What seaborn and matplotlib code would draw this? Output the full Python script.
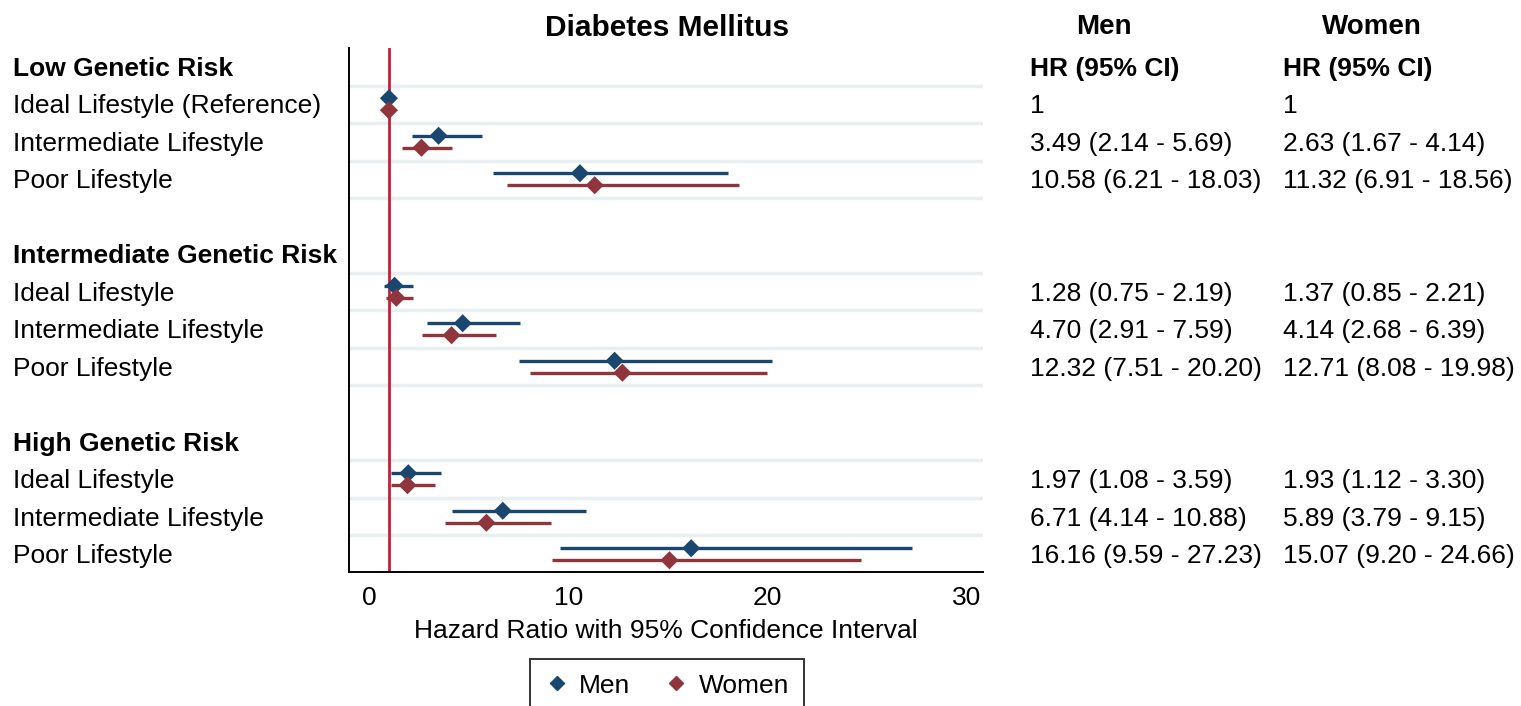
import numpy as np
import pandas as pd
import matplotlib
matplotlib.use("Agg")
import matplotlib.pyplot as plt
import matplotlib.transforms as mtransforms
from matplotlib.lines import Line2D
import seaborn as sns

# data (hazard ratios with 95% CI)
groups = ["Low Genetic Risk", "Intermediate Genetic Risk", "High Genetic Risk"]
row_labels = [
    "Ideal Lifestyle (Reference)", "Intermediate Lifestyle", "Poor Lifestyle",
    "Ideal Lifestyle", "Intermediate Lifestyle", "Poor Lifestyle",
    "Ideal Lifestyle", "Intermediate Lifestyle", "Poor Lifestyle",
]
men_hr = [1.0, 3.49, 10.58, 1.28, 4.70, 12.32, 1.97, 6.71, 16.16]
men_lo = [1.0, 2.14, 6.21, 0.75, 2.91, 7.51, 1.08, 4.14, 9.59]
men_hi = [1.0, 5.69, 18.03, 2.19, 7.59, 20.20, 3.59, 10.88, 27.23]
women_hr = [1.0, 2.63, 11.32, 1.37, 4.14, 12.71, 1.93, 5.89, 15.07]
women_lo = [1.0, 1.67, 6.91, 0.85, 2.68, 8.08, 1.12, 3.79, 9.20]
women_hi = [1.0, 4.14, 18.56, 2.21, 6.39, 19.98, 3.30, 9.15, 24.66]
xticks = [0, 10, 20, 30]

MEN_C = "#1a476f"
WOMEN_C = "#90353b"
REF_C = "#c41e3a"
GRID_C = "#e9eff1"
FS = 19

sns.set_style("white")
plt.rcParams["font.family"] = ["Liberation Sans", "DejaVu Sans"]
plt.rcParams["text.color"] = "black"
plt.rcParams["axes.labelcolor"] = "black"
plt.rcParams["xtick.color"] = "black"

# row positions: header at 5*g, rows at 5*g+1..3
header_pos = [5 * g for g in range(3)]
row_pos = [5 * g + k for g in range(3) for k in (1, 2, 3)]
off = 0.16

df = pd.DataFrame({
    "pos": np.concatenate([np.array(row_pos) - off, np.array(row_pos) + off]),
    "hr": men_hr + women_hr,
    "lo": men_lo + women_lo,
    "hi": men_hi + women_hi,
    "sex": ["Men"] * 9 + ["Women"] * 9,
})

fig = plt.figure(figsize=(15.21, 7.06), dpi=100)
ax = fig.add_axes([0.2295, 0.19, 0.4168, 0.742])

# gridlines between rows
for g in range(3):
    for k in range(4):
        y = 5 * g + k + 0.5
        if y < 13.4:
            ax.axhline(y, color=GRID_C, lw=2.5, zorder=0)

ax.axvline(1, color=REF_C, lw=2.0, zorder=1)

for sex, col in (("Men", MEN_C), ("Women", WOMEN_C)):
    sub = df[df["sex"] == sex]
    ax.hlines(sub["pos"], sub["lo"], sub["hi"], color=col, lw=2.4, zorder=2)

sns.scatterplot(data=df, x="hr", y="pos", hue="sex", palette=[MEN_C, WOMEN_C],
                marker="D", s=85, edgecolor="none", zorder=3, ax=ax, legend=False)

ax.set_xlim(-1.0, 30.8)
ax.set_ylim(13.47, -0.5)
ax.set_xticks(xticks)
ax.set_xticklabels([str(t) for t in xticks], fontsize=FS)
ax.set_yticks([])
ax.set_ylabel("")
ax.set_xlabel("Hazard Ratio with 95% Confidence Interval", fontsize=FS, labelpad=7)
ax.tick_params(axis="x", direction="out", length=7, width=1.3, color="black",
               pad=3, labelcolor="black")
for side in ("top", "right"):
    ax.spines[side].set_visible(False)
for side in ("left", "bottom"):
    ax.spines[side].set_color("black")
    ax.spines[side].set_linewidth(1.4)

fig.text(667 / 1521, 1 - 28 / 706, "Diabetes Mellitus", fontsize=21.5,
         fontweight="bold", ha="center", va="center")

# text columns
tr = mtransforms.blended_transform_factory(fig.transFigure, ax.transData)
bl = 0.24
x_left = 13 / 1521
x_men = 1030 / 1521
x_women = 1283 / 1521

for g, hp in enumerate(header_pos):
    ax.text(x_left, hp + bl, groups[g], transform=tr, fontsize=FS,
            fontweight="bold", va="baseline", ha="left")
for i, rp in enumerate(row_pos):
    ax.text(x_left, rp + bl, row_labels[i], transform=tr, fontsize=FS,
            va="baseline", ha="left")


def fmt(hr, lo, hi):
    if hr == 1.0 and lo == 1.0 and hi == 1.0:
        return "1"
    return f"{hr:.2f} ({lo:.2f} - {hi:.2f})"


ax.text(x_men, header_pos[0] + bl, "HR (95% CI)", transform=tr, fontsize=FS,
        fontweight="bold", va="baseline", ha="left")
ax.text(x_women, header_pos[0] + bl, "HR (95% CI)", transform=tr, fontsize=FS,
        fontweight="bold", va="baseline", ha="left")
for i, rp in enumerate(row_pos):
    ax.text(x_men, rp + bl, fmt(men_hr[i], men_lo[i], men_hi[i]), transform=tr,
            fontsize=FS, va="baseline", ha="left")
    ax.text(x_women, rp + bl, fmt(women_hr[i], women_lo[i], women_hi[i]),
            transform=tr, fontsize=FS, va="baseline", ha="left")

fig.text(1104 / 1521, 1 - 27 / 706, "Men", fontsize=20, fontweight="bold",
         ha="center", va="center")
fig.text(1372 / 1521, 1 - 27 / 706, "Women", fontsize=20, fontweight="bold",
         ha="center", va="center")

handles = [
    Line2D([], [], marker="D", color=MEN_C, ls="none", markersize=7),
    Line2D([], [], marker="D", color=WOMEN_C, ls="none", markersize=7),
]
leg = fig.legend(handles, ["Men", "Women"], loc="upper center",
                 bbox_to_anchor=(667 / 1521, 1 - 659 / 706), ncol=2,
                 fontsize=FS, frameon=True, fancybox=False, handletextpad=0.4,
                 columnspacing=1.3, borderpad=0.55, handlelength=0.9,
                 borderaxespad=0)
leg.get_frame().set_edgecolor("black")
leg.get_frame().set_linewidth(1.4)

fig.savefig("out.png", dpi=100, facecolor="white")
